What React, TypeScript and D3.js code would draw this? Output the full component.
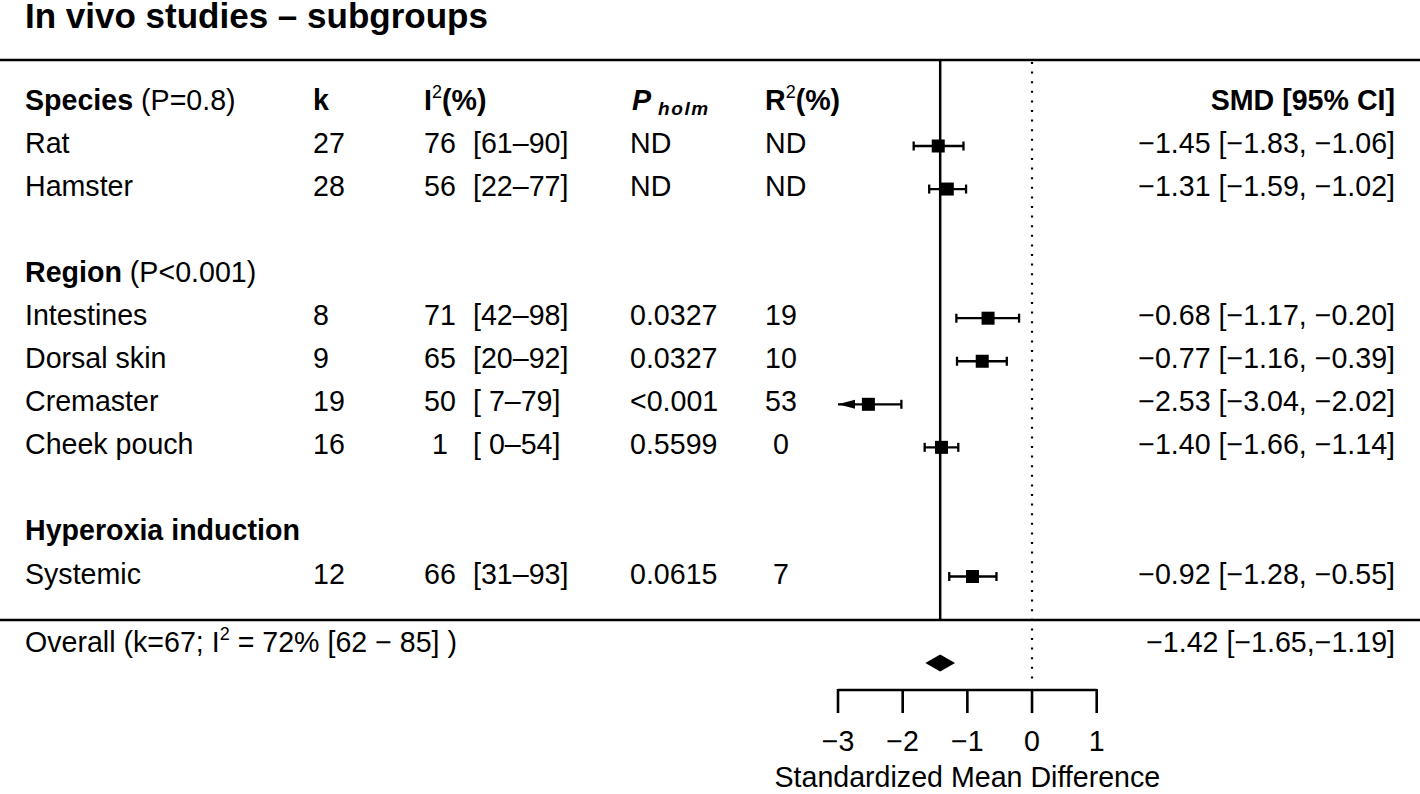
import React from "react";
import * as d3 from "d3";

const groupNames = ["Species", "Region", "Hyperoxia induction"];
const groupTests = ["(P=0.8)", "(P<0.001)", ""];
const groupRows = [0, 4, 10];

const labels = ["Rat", "Hamster", "Intestines", "Dorsal skin", "Cremaster", "Cheek pouch", "Systemic"];
const rowIndex = [1, 2, 5, 6, 7, 8, 11];
const kValues = [27, 28, 8, 9, 19, 16, 12];
const i2Values = [76, 56, 71, 65, 50, 1, 66];
const i2Low = [61, 22, 42, 20, 7, 0, 31];
const i2High = [90, 77, 98, 92, 79, 54, 93];
const pHolm = ["ND", "ND", "0.0327", "0.0327", "<0.001", "0.5599", "0.0615"];
const r2Values = ["ND", "ND", "19", "10", "53", "0", "7"];
const smd = [-1.45, -1.31, -0.68, -0.77, -2.53, -1.4, -0.92];
const ciLow = [-1.83, -1.59, -1.17, -1.16, -3.04, -1.66, -1.28];
const ciHigh = [-1.06, -1.02, -0.2, -0.39, -2.02, -1.14, -0.55];

const overallK = 67;
const overallI2 = [72, 62, 85];
const overallSmd = [-1.42, -1.65, -1.19];

const axisTicks = [-3, -2, -1, 0, 1];

const FONT = "'Liberation Sans', Arial, Helvetica, sans-serif";
const FS = 28.6;
const NB = "\u00A0";

const fmt = (v: number) => v.toFixed(2).replace("-", "\u2212");
const pad2 = (v: number) => (v < 10 ? NB + v : String(v));

export default function App() {
  const x = d3.scaleLinear().domain([-3, 1]).range([838, 1096.7]);
  const y = d3.scaleLinear().domain([1, 11]).range([146, 576.5]);
  const base = (r: number) => y(r) + 7;
  const sq = 13;
  const cap = 4.5;
  const xmin = x.domain()[0];

  const colLabel = 25;
  const colK = 313;
  const colI2 = 424;
  const colI2ci = 473;
  const colP = 630;
  const colR2 = 765;
  const colSmd = 1395;

  const hdr = base(0);
  const overallBase = 652;
  const diamondY = 663;

  return (
    <svg
      width={1420}
      height={794}
      style={{ position: "absolute", left: 0, top: 0, background: "#fff" }}
      fontFamily={FONT}
      fontSize={FS}
    >
      <rect x={0} y={0} width={1420} height={794} fill="#fff" />
      {/* title */}
      <text x={25} y={28} fontSize={35} fontWeight="bold">
        In vivo studies – subgroups
      </text>

      {/* horizontal rules */}
      <line x1={0} x2={1420} y1={60} y2={60} stroke="#000" strokeWidth={2.5} />
      <line x1={0} x2={1420} y1={620} y2={620} stroke="#000" strokeWidth={2.5} />

      {/* reference lines */}
      <line x1={x(overallSmd[0])} x2={x(overallSmd[0])} y1={60} y2={620} stroke="#000" strokeWidth={2.5} />
      <line
        x1={x(0)}
        x2={x(0)}
        y1={62}
        y2={683}
        stroke="#000"
        strokeWidth={2.2}
        strokeDasharray="2 7.6"
      />

      {/* header */}
      <text x={colLabel} y={hdr}>
        <tspan fontWeight="bold">Species</tspan>
        <tspan>{NB + "(P=0.8)"}</tspan>
      </text>
      <text x={colK} y={hdr} fontWeight="bold">k</text>
      <text x={colI2} y={hdr}>
        <tspan fontWeight="bold">I</tspan>
        <tspan fontSize={18} dy={-12}>2</tspan>
        <tspan fontWeight="bold" dy={12}>(%)</tspan>
      </text>
      <text x={colP + 2} y={hdr} fontWeight="bold" fontStyle="italic">
        <tspan>P</tspan>
        <tspan fontSize={19} dx={7} dy={5} letterSpacing={1.6}>holm</tspan>
      </text>
      <text x={colR2} y={hdr}>
        <tspan fontWeight="bold">R</tspan>
        <tspan fontSize={18} dy={-12}>2</tspan>
        <tspan fontWeight="bold" dy={12}>(%)</tspan>
      </text>
      <text x={colSmd} y={hdr} fontWeight="bold" textAnchor="end">
        SMD [95% CI]
      </text>

      {/* group headings (after first) */}
      {groupNames.map((g, i) =>
        i === 0 ? null : (
          <text key={g} x={colLabel} y={base(groupRows[i])}>
            <tspan fontWeight="bold">{g}</tspan>
            {groupTests[i] ? <tspan>{NB + groupTests[i]}</tspan> : null}
          </text>
        )
      )}

      {/* study rows */}
      {labels.map((lab, i) => {
        const r = rowIndex[i];
        const b = base(r);
        const cy = y(r);
        const lo = Math.max(ciLow[i], xmin);
        const clipped = ciLow[i] < xmin;
        return (
          <g key={lab}>
            <text x={colLabel} y={b}>{lab}</text>
            <text x={colK} y={b}>{kValues[i]}</text>
            <text x={colI2} y={b}>{pad2(i2Values[i])}</text>
            <text x={colI2ci} y={b}>{`[${pad2(i2Low[i])}–${i2High[i]}]`}</text>
            <text x={colP} y={b}>{pHolm[i]}</text>
            <text x={colR2} y={b}>{r2Values[i].length === 1 ? NB + r2Values[i] : r2Values[i]}</text>
            <text x={colSmd} y={b} textAnchor="end">
              {`${fmt(smd[i])} [${fmt(ciLow[i])}, ${fmt(ciHigh[i])}]`}
            </text>
            <line x1={x(lo)} x2={x(ciHigh[i])} y1={cy} y2={cy} stroke="#000" strokeWidth={2.3} />
            {!clipped && (
              <line x1={x(lo)} x2={x(lo)} y1={cy - cap} y2={cy + cap} stroke="#000" strokeWidth={2.3} />
            )}
            {clipped && (
              <path
                d={`M${x(xmin)},${cy} L${x(xmin) + 17},${cy - 4.5} L${x(xmin) + 17},${cy + 4.5} Z`}
                fill="#000"
              />
            )}
            <line
              x1={x(ciHigh[i])}
              x2={x(ciHigh[i])}
              y1={cy - cap}
              y2={cy + cap}
              stroke="#000"
              strokeWidth={2.3}
            />
            <rect x={x(smd[i]) - sq / 2} y={cy - sq / 2} width={sq} height={sq} fill="#000" />
          </g>
        );
      })}

      {/* overall */}
      <text x={colLabel} y={overallBase}>
        <tspan>{`Overall (k=${overallK}; I`}</tspan>
        <tspan fontSize={18} dy={-12}>2</tspan>
        <tspan dy={12}>{`${NB}= ${overallI2[0]}% [${overallI2[1]} \u2212 ${overallI2[2]}] )`}</tspan>
      </text>
      <text x={colSmd} y={overallBase} textAnchor="end">
        {`${fmt(overallSmd[0])} [${fmt(overallSmd[1])},${fmt(overallSmd[2])}]`}
      </text>
      <path
        d={`M${x(overallSmd[1])},${diamondY} L${x(overallSmd[0])},${diamondY - 8.5} L${x(overallSmd[2])},${diamondY} L${x(overallSmd[0])},${diamondY + 8.5} Z`}
        fill="#000"
      />

      {/* axis */}
      <line x1={x(-3)} x2={x(1)} y1={690} y2={690} stroke="#000" strokeWidth={2.6} />
      {axisTicks.map((t) => (
        <g key={t}>
          <line x1={x(t)} x2={x(t)} y1={689} y2={713} stroke="#000" strokeWidth={2.6} />
          <text x={x(t)} y={751} textAnchor="middle">
            {t < 0 ? "\u2212" + Math.abs(t) : String(t)}
          </text>
        </g>
      ))}
      <text x={x(-1)} y={787} textAnchor="middle">
        Standardized Mean Difference
      </text>
    </svg>
  );
}
